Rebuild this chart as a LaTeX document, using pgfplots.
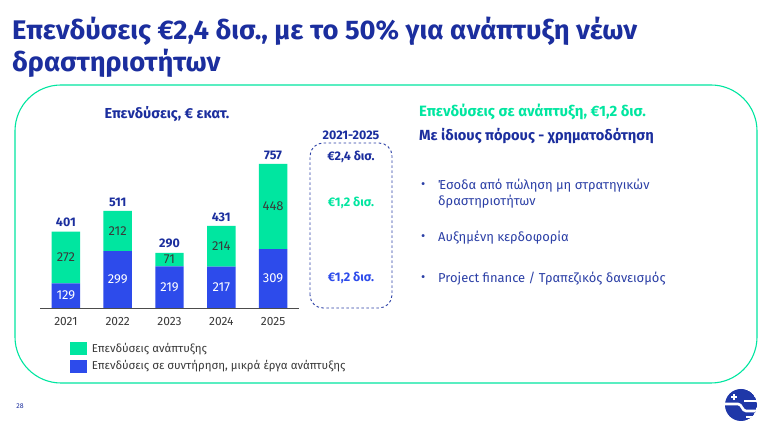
\documentclass[border=0pt]{standalone}
\usepackage{fontspec}
\setmainfont{Fira Sans}
\usepackage{pgfplots}
\pgfplotsset{compat=1.18}
\usepackage{pgfplotstable}
\definecolor{ttl}{HTML}{1B2E9E}
\definecolor{barblue}{HTML}{2D4BEB}
\definecolor{bargreen}{HTML}{00E6A0}
\definecolor{txtblue}{HTML}{2B3FA6}
\definecolor{grey}{HTML}{3A3A3A}
\definecolor{logoblue}{HTML}{1F37A8}

\pgfplotstableread{
x maint dev total
0 129 272 401
1 299 212 511
2 219 71 290
3 217 214 431
4 309 448 757
}\capex

\tikzset{wl/.style={text=white, font=\fontsize{13}{13}\selectfont},
         gl/.style={text=grey, font=\fontsize{13}{13}\selectfont},
         tl/.style={text=ttl, anchor=south, yshift=1bp, font=\fontsize{12.5}{13}\selectfont\bfseries}}

\newsavebox\tboxa
\newsavebox\tboxb

\begin{document}
\sbox\tboxa{\color{ttl}\fontsize{27}{27}\selectfont\bfseries Επενδύσεις €2,4 δισ., με το 50\% για ανάπτυξη νέων}%
\sbox\tboxb{\color{ttl}\fontsize{27}{27}\selectfont\bfseries δραστηριοτήτων}%
\pgfmathsetmacro\sx{625bp/\wd\tboxa}%
\begin{tikzpicture}[x=1bp,y=1bp]
\path[use as bounding box, fill=white] (0,0) rectangle (778,438);
% title
\node[anchor=base west, inner sep=0] at (12,398) {\scalebox{\sx}[1]{\usebox\tboxa}};
\node[anchor=base west, inner sep=0] at (12,366) {\scalebox{\sx}[1]{\usebox\tboxb}};
% frame
\draw[bargreen, line width=1.1bp, rounded corners=46bp] (15,55) rectangle (757,353);

\begin{axis}[
  at={(40bp,130bp)}, anchor=south west,
  scale only axis, width=259bp, height=152.2bp,
  xmin=-0.5, xmax=4.5, ymin=0, ymax=800,
  axis x line*=bottom, axis y line=none,
  x axis line style={black!70, line width=0.8bp},
  xtick={0,1,2,3,4}, xticklabels={2021,2022,2023,2024,2025},
  major tick length=0,
  xticklabel style={font=\fontsize{12}{12}\selectfont, text=grey, anchor=north, inner sep=0, yshift=-9bp},
  ybar stacked, bar width=0.55,
  clip=false,
  legend cell align=left,
  legend style={at={(rel axis cs:0.115,-0.215)}, anchor=north west, draw=none, fill=none,
    font=\fontsize{11.5}{12}\selectfont, text=grey, row sep=3bp, inner sep=0,
    /tikz/every odd column/.append style={column sep=3bp}},
  legend image code/.code={\fill[#1] (0bp,-6.5bp) rectangle (17bp,6.5bp);},
]
\addlegendimage{fill=bargreen, draw=none}
\addlegendentry{Επενδύσεις ανάπτυξης}
\addlegendimage{fill=barblue, draw=none}
\addlegendentry{Επενδύσεις σε συντήρηση, μικρά έργα ανάπτυξης}
\addplot[fill=barblue, draw=none, forget plot] table[x=x, y=maint]{\capex};
\addplot[fill=bargreen, draw=none, forget plot] table[x=x, y=dev]{\capex};
% label anchors (segment midpoints and bar tops)
\coordinate (m0) at (axis cs:0,64.5);
\coordinate (m1) at (axis cs:1,149.5);
\coordinate (m2) at (axis cs:2,109.5);
\coordinate (m3) at (axis cs:3,108.5);
\coordinate (m4) at (axis cs:4,154.5);
\coordinate (d0) at (axis cs:0,265);
\coordinate (d1) at (axis cs:1,405);
\coordinate (d2) at (axis cs:2,254.5);
\coordinate (d3) at (axis cs:3,324);
\coordinate (d4) at (axis cs:4,533);
\coordinate (t0) at (axis cs:0,401);
\coordinate (t1) at (axis cs:1,511);
\coordinate (t2) at (axis cs:2,290);
\coordinate (t3) at (axis cs:3,431);
\coordinate (t4) at (axis cs:4,757);
\end{axis}
\node[wl] at (m0) {129};
\node[wl] at (m1) {299};
\node[wl] at (m2) {219};
\node[wl] at (m3) {217};
\node[wl] at (m4) {309};
\node[gl] at (d0) {272};
\node[gl] at (d1) {212};
\node[gl] at (d2) {71};
\node[gl] at (d3) {214};
\node[gl] at (d4) {448};
\node[tl] at (t0) {401};
\node[tl] at (t1) {511};
\node[tl] at (t2) {290};
\node[tl] at (t3) {431};
\node[tl] at (t4) {757};

% chart title
\node[text=ttl, font=\fontsize{14.5}{15}\selectfont\bfseries] at (167,324) {Επενδύσεις, € εκατ.};
% dashed summary box
\draw[txtblue, line width=0.9bp, dash pattern=on 2.5bp off 2.5bp, rounded corners=13bp] (310,130) rectangle (392,295);
\node[text=ttl, font=\fontsize{12.5}{13}\selectfont\bfseries] at (351,303) {2021-2025};
\node[text=ttl, font=\fontsize{12.5}{13}\selectfont\bfseries] at (351,281) {€2,4 δισ.};
\node[text=bargreen, font=\fontsize{12.5}{13}\selectfont\bfseries] at (351,235) {€1,2 δισ.};
\node[text=barblue, font=\fontsize{12.5}{13}\selectfont\bfseries] at (351,160) {€1,2 δισ.};

% right text
\node[anchor=west, inner sep=0, text=bargreen, font=\fontsize{15}{16}\selectfont\bfseries] at (419,326) {Επενδύσεις σε ανάπτυξη, €1,2 δισ.};
\node[anchor=west, inner sep=0, text=ttl, font=\fontsize{14.7}{16}\selectfont\bfseries] at (419,302) {Με ίδιους πόρους - χρηματοδότηση};
\begin{scope}[every node/.style={anchor=west, inner sep=0, text=txtblue, font=\fontsize{13}{14}\selectfont}]
\node at (421,252) {•};
\node at (438,252) {Έσοδα από πώληση μη στρατηγικών};
\node at (438,236) {δραστηριοτήτων};
\node at (421,200) {•};
\node at (438,200) {Αυξημένη κερδοφορία};
\node at (421,159) {•};
\node at (438,159) {Project finance / Τραπεζικός δανεισμός};
\end{scope}

% page number
\node[text=ttl, font=\fontsize{7}{8}\selectfont] at (20,32) {28};
% logo
\begin{scope}[shift={(741,33)}]
\clip (0,0) circle (16);
\fill[logoblue] (0,0) circle (16);
\draw[white, line width=2.6bp] (-17,1) -- (-3,1) .. controls (1,1) and (1,-6) .. (5,-6) -- (17,-6);
\draw[white, line width=2.4bp] (3,4) -- (17,4);
\draw[white, line width=2.4bp] (5,-12) -- (17,-12);
\draw[white, line width=1.2bp] (-7,5) -- (-7,11) (-10,8) -- (-4,8);
\end{scope}
\end{tikzpicture}
\end{document}
